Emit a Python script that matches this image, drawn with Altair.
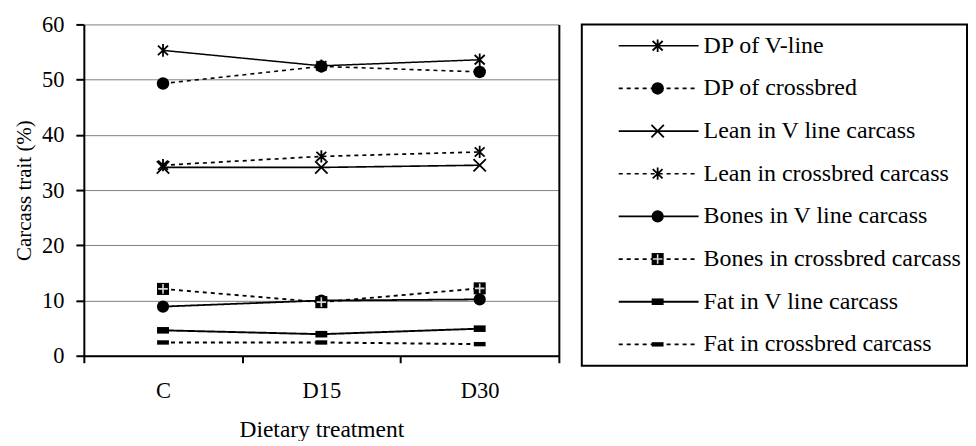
import altair as alt
import pandas as pd

# ---------------- data ----------------
treatments = ["C", "D15", "D30"]
series_names = [
    "DP of V-line",
    "DP of  crossbred",
    "Lean in V line carcass",
    "Lean in crossbred carcass",
    "Bones in V line carcass",
    "Bones in crossbred carcass",
    "Fat in V line carcass",
    "Fat in crossbred carcass",
]
dp_vline = [55.3, 52.5, 53.6]
dp_cross = [49.3, 52.4, 51.4]
lean_vline = [34.1, 34.1, 34.5]
lean_cross = [34.5, 36.1, 36.9]
bones_vline = [8.9, 10.0, 10.2]
bones_cross = [12.1, 9.7, 12.2]
fat_vline = [4.6, 3.9, 4.9]
fat_cross = [2.4, 2.4, 2.1]
y_ticks = [0, 10, 20, 30, 40, 50, 60]

all_values = [dp_vline, dp_cross, lean_vline, lean_cross,
              bones_vline, bones_cross, fat_vline, fat_cross]

rows = []
for name, vals in zip(series_names, all_values):
    for t, v in zip(treatments, vals):
        rows.append({"series": name, "treatment": t, "value": v})
df = pd.DataFrame(rows)
legend_df = pd.DataFrame({"series": series_names})

# ---------------- styles ----------------
FONT = "Liberation Serif, DejaVu Serif, serif"
ASTER = "M0,-1L0,1M-0.8,-0.75L0.8,0.75M-0.8,0.75L0.8,-0.75"
XMARK = "M-1,-1L1,1M-1,1L1,-1"
FAT_V = "M-1,-0.55L1,-0.55L1,0.55L-1,0.55Z"
FAT_C = "M-1,-0.37L1,-0.37L1,0.37L-1,0.37Z"
PLUS = "M-0.6,0L0.6,0M0,-0.6L0,0.6"

shapes = [ASTER, "circle", XMARK, ASTER, "circle", "square", FAT_V, FAT_C]
sizes = [160, 140, 110, 150, 140, 256, 81, 225]
dashes = [[1, 0], [4, 4], [1, 0], [4, 4], [1, 0], [4, 4], [1, 0], [4, 4]]
line_widths = [1.5, 2, 1.5, 2, 1.5, 2, 1.5, 2.5]

stroked_series = [series_names[0], series_names[2], series_names[3]]
filled_series = [series_names[1], series_names[4], series_names[5],
                 series_names[6], series_names[7]]

shape_enc = alt.Shape("series:N", scale=alt.Scale(domain=series_names, range=shapes), legend=None)
size_enc = alt.Size("series:N", scale=alt.Scale(domain=series_names, range=sizes), legend=None)
dash_enc = alt.StrokeDash("series:N", scale=alt.Scale(domain=series_names, range=dashes), legend=None)
lw_enc = alt.StrokeWidth("series:N", scale=alt.Scale(domain=series_names, range=line_widths), legend=None)

# ---------------- plot panel ----------------
x_enc = alt.X(
    "treatment:N",
    sort=treatments,
    bandPosition=0.5,
    scale=alt.Scale(type="band", paddingInner=0, paddingOuter=0),
    axis=alt.Axis(
        title="Dietary treatment",
        titleFontSize=23.5,
        labelAngle=0,
        tickBand="extent",
        tickSize=7,
        tickWidth=2,
        tickColor="black",
        domainColor="black",
        domainWidth=2,
        labelPadding=17,
        titlePadding=15,
        grid=False,
    ),
)
y_scale = alt.Scale(domain=[0, 60], nice=False)
y_enc = alt.Y(
    "value:Q",
    scale=y_scale,
    axis=alt.Axis(
        title="Carcass trait (%)",
        titleFontSize=21,
        values=y_ticks,
        tickSize=8,
        tickWidth=2,
        tickColor="black",
        domainColor="black",
        domainWidth=2,
        labelPadding=12,
        titlePadding=7,
        grid=True,
        gridColor="#808080",
        gridWidth=1,
    ),
)
y_right = alt.Y(
    "value:Q",
    scale=y_scale,
    axis=alt.Axis(orient="right", labels=False, ticks=False, grid=False,
                  domainColor="black", domainWidth=2, title=None),
)
y_noaxis = alt.Y("value:Q", scale=y_scale, axis=None)

base = alt.Chart(df)
lines = base.mark_line(color="black").encode(
    x=x_enc, y=y_enc, detail="series:N", strokeDash=dash_enc, strokeWidth=lw_enc
)
pts_stroked = base.mark_point(filled=False, color="black", strokeWidth=1.8, opacity=1).encode(
    x=x_enc, y=y_right, shape=shape_enc, size=size_enc
).transform_filter(alt.FieldOneOfPredicate(field="series", oneOf=stroked_series))
pts_filled = base.mark_point(filled=True, color="black", opacity=1, strokeWidth=0).encode(
    x=x_enc, y=y_noaxis, shape=shape_enc, size=size_enc
).transform_filter(alt.FieldOneOfPredicate(field="series", oneOf=filled_series))
pts_plus = base.mark_point(filled=False, color="#d8d8d8", strokeWidth=1.6, opacity=1).encode(
    x=x_enc, y=y_noaxis, shape=alt.value(PLUS), size=alt.value(256)
).transform_filter(alt.FieldEqualPredicate(field="series", equal=series_names[5]))

plot = alt.layer(lines, pts_stroked, pts_filled, pts_plus).resolve_axis(y="independent").properties(
    width=476, height=332, view=alt.ViewBackground(strokeWidth=0)
)

# ---------------- legend panel ----------------
leg_y = alt.Y("series:N", sort=series_names,
              scale=alt.Scale(type="point", padding=0.5), axis=None)
leg_base = alt.Chart(legend_df).encode(y=leg_y)
leg_rule = leg_base.mark_rule(color="black").encode(
    x=alt.value(37), x2=alt.value(117), strokeDash=dash_enc, strokeWidth=lw_enc
)
leg_stroked = leg_base.mark_point(filled=False, color="black", strokeWidth=1.8, opacity=1).encode(
    x=alt.value(76), shape=shape_enc, size=size_enc
).transform_filter(alt.FieldOneOfPredicate(field="series", oneOf=stroked_series))
leg_filled = leg_base.mark_point(filled=True, color="black", opacity=1, strokeWidth=0).encode(
    x=alt.value(76), shape=shape_enc, size=size_enc
).transform_filter(alt.FieldOneOfPredicate(field="series", oneOf=filled_series))
leg_plus = leg_base.mark_point(filled=False, color="#d8d8d8", strokeWidth=1.6, opacity=1).encode(
    x=alt.value(76), shape=alt.value(PLUS), size=alt.value(256)
).transform_filter(alt.FieldEqualPredicate(field="series", equal=series_names[5]))
leg_text = leg_base.mark_text(align="left", baseline="middle", font=FONT, fontSize=24,
                              color="black").encode(x=alt.value(122), text="series:N")

legend = alt.layer(leg_rule, leg_stroked, leg_filled, leg_plus, leg_text).properties(
    width=386, height=342, view=alt.ViewBackground(stroke="black", strokeWidth=2)
)

chart = (
    alt.hconcat(plot, legend, spacing=21)
    .properties(padding={"left": 5, "top": 5, "right": 0, "bottom": 0})
    .configure(font=FONT)
    .configure_axis(
        labelFont=FONT, titleFont=FONT, labelFontSize=22.5, titleFontSize=23,
        titleFontWeight="normal", labelColor="black", titleColor="black",
    )
)

chart.save("out.html", embed_options={"renderer": "svg", "actions": False})
